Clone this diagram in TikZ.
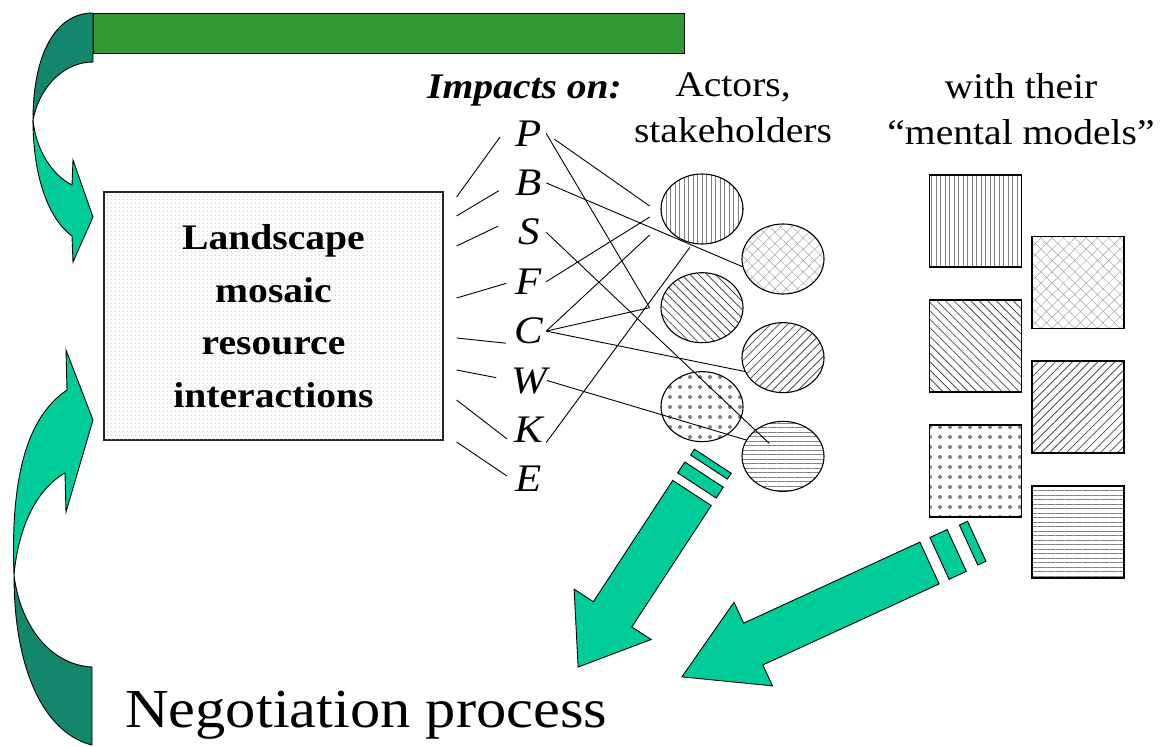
\documentclass[tikz,border=0pt]{standalone}
\usepackage{fontspec}
\setmainfont{Liberation Serif}[FakeStretch=1.1]
\usetikzlibrary{positioning,shapes.geometric,patterns.meta}

\definecolor{barGreen}{RGB}{51,153,51}
\definecolor{arrowLight}{RGB}{0,204,153}
\definecolor{arrowDark}{RGB}{20,134,108}

\begin{document}
\begin{tikzpicture}[x=1pt,y=-1pt,
  link/.style={line width=0.9pt},
  greenshape/.style={draw=black,line width=0.9pt},
  label text/.style={inner sep=0pt,font=\fontsize{36}{46}\selectfont},
  letter/.style={inner sep=0pt,minimum width=34pt,text height=25pt,text depth=0pt,font=\fontsize{39}{39}\selectfont\itshape},
  actor/.style={ellipse,draw,line width=1.1pt,minimum width=82pt,minimum height=70pt,inner sep=0pt},
  model/.style={rectangle,draw,line width=1.8pt,minimum size=92pt,inner sep=0pt}]

  \useasboundingbox (0,0) rectangle (1173,747);

  % feedback loop
  \draw[greenshape, fill=barGreen] (93,13) rectangle (684,53);
  \draw[greenshape, fill=arrowDark] (93,13) .. controls (55,13) and (33,55) .. (33,120)
    .. controls (40,85) and (65,62) .. (93,62) -- cycle;
  \draw[greenshape, fill=arrowLight] (33,120) .. controls (33,180) and (50,220) .. (72,236)
    -- (73,262) -- (93,217) -- (73,160) -- (72,185) .. controls (52,175) and (36,150) .. (33,120) -- cycle;
  \draw[greenshape, fill=arrowLight] (14,575) .. controls (10,470) and (30,415) .. (67,390)
    -- (66,350) -- (93,420) -- (66,512) -- (65,473) .. controls (35,490) and (18,530) .. (14,575) -- cycle;
  \draw[greenshape, fill=arrowDark] (14,575) .. controls (14,680) and (50,735) .. (92,745)
    -- (92,667) .. controls (50,665) and (20,625) .. (14,575) -- cycle;

  \node[draw=black!85, line width=1.2pt, fill=gray!3,
    postaction={pattern color=gray!60, pattern={Dots[distance=4pt,radius=0.45pt]}},
    minimum width=339pt, minimum height=248pt, align=center,
    font=\fontsize{36}{52.5}\selectfont\bfseries] (box) at (273.5,316)
    {Landscape\\mosaic\\resource\\interactions};

  \node[anchor=base west, inner sep=0pt, font=\fontsize{55}{60}\selectfont] (nego) at (125,727) {Negotiation process};

  % headings
  \node[label text, anchor=base west, font=\fontsize{36}{46}\selectfont\bfseries\itshape] (impacts) at (427,98) {Impacts on:};
  \node[label text, align=center, anchor=north] (actors) at (733,73) {Actors,\\stakeholders};
  \node[label text, align=center, anchor=north] (models) at (1021,73) {with their\\“mental models”};

  % impact letters
  \node[letter, anchor=base] (P) at (529,146) {P};
  \node[letter, below=24pt of P] (B) {B};
  \node[letter, below=24pt of B] (S) {S};
  \node[letter, below=24pt of S] (F) {F};
  \node[letter, below=24pt of F] (C) {C};
  \node[letter, below=24pt of C] (W) {W};
  \node[letter, below=24pt of W] (K) {K};
  \node[letter, below=24pt of K] (E) {E};

  % actors
  \node[actor, pattern color=gray, pattern={Lines[angle=90,distance=4.5pt,line width=0.6pt]}] (a1) at (702,209) {};
  \node[actor, pattern color=gray!70, pattern={Hatch[angle=45,distance=8pt,line width=0.5pt]}] (a2) at (783,259) {};
  \node[actor, pattern color=black!70, pattern={Lines[angle=-45,distance=6pt,line width=0.8pt]}, below=28pt of a1] (a3) {};
  \node[actor, pattern color=black!70, pattern={Lines[angle=45,distance=6pt,line width=0.8pt]}, below=28pt of a2] (a4) {};
  \node[actor, pattern color=gray, pattern={Dots[distance=10pt,radius=2pt]}, below=28pt of a3] (a5) {};
  \node[actor, pattern color=gray, pattern={Lines[angle=0,distance=4.5pt,line width=0.6pt]}, below=28pt of a4] (a6) {};

  % mental models
  \node[model, pattern color=gray, pattern={Lines[angle=90,distance=4.5pt,line width=0.6pt]}] (m1) at (975.5,221) {};
  \node[model, pattern color=gray!70, pattern={Hatch[angle=45,distance=8pt,line width=0.5pt]}] (m2) at (1078,282.5) {};
  \node[model, pattern color=black!70, pattern={Lines[angle=-45,distance=6pt,line width=0.8pt]}, below=31pt of m1] (m3) {};
  \node[model, pattern color=black!70, pattern={Lines[angle=45,distance=6pt,line width=0.8pt]}, below=31pt of m2] (m4) {};
  \node[model, pattern color=gray, pattern={Dots[distance=10pt,radius=2pt]}, below=31pt of m3] (m5) {};
  \node[model, pattern color=gray, pattern={Lines[angle=0,distance=4.5pt,line width=0.6pt]}, below=31pt of m4] (m6) {};

  % landscape -> impacts
  \foreach \t/\dy/\gap in {P.north west/-119/20, B.west/-100/15, S.north west/-70/15, F.west/-18/6,
      C.south west/22/6, W.west/54/15, K.south west/84/6, E.west/126/6}
    \draw[link, shorten >=\gap pt] ([shift={(13,\dy)}]box.east) -- (\t);

  % impacts -> actors
  \coordinate (meet) at ([xshift=-11pt]a3.west);
  \draw[link, shorten <=10pt] (P.east) -- ([shift={(-11,-3)}]a1.west);
  \draw[link] (P.east) -- (meet);
  \draw[link] (B.east) -- (a2.191);
  \draw[link, shorten >=19pt] (S.east) -- (a6.center);
  \draw[link] (F.east) -- ([shift={(-11,8)}]a1.west);
  \draw[link] (C.east) -- ([shift={(-11,26)}]a1.west);
  \draw[link] (C.east) -- (meet);
  \draw[link] (C.east) -- (a4.200);
  \draw[link] (W.east) -- (a6.156);
  \draw[link, shorten >=5pt] (K.south east) -- (a1.255);

  % pencils to negotiation
  \begin{scope}[shift={(692,493)}, rotate=-123.2]
    \draw[greenshape, fill=arrowLight] (0,-23) -- (145,-23) -- (145,-46) -- (208,0) -- (145,46) -- (145,23) -- (0,23) -- cycle;
    \draw[greenshape, fill=arrowLight] (-9,-23) -- (-22,-23) -- (-22,23) -- (-9,23) -- cycle;
    \draw[greenshape, fill=arrowLight] (-31,-22) -- (-38,-22) -- (-38,22) -- (-31,22) -- cycle;
  \end{scope}
  \begin{scope}[shift={(929.5,563)}, rotate=-155.3]
    \draw[greenshape, fill=arrowLight] (0,-23) -- (194,-23) -- (194,-46) -- (272.5,0) -- (194,46) -- (194,23) -- (0,23) -- cycle;
    \draw[greenshape, fill=arrowLight] (-11,-23) -- (-30,-23) -- (-30,23) -- (-11,23) -- cycle;
    \draw[greenshape, fill=arrowLight] (-43,-22) -- (-52,-22) -- (-52,22) -- (-43,22) -- cycle;
  \end{scope}

\end{tikzpicture}
\end{document}
